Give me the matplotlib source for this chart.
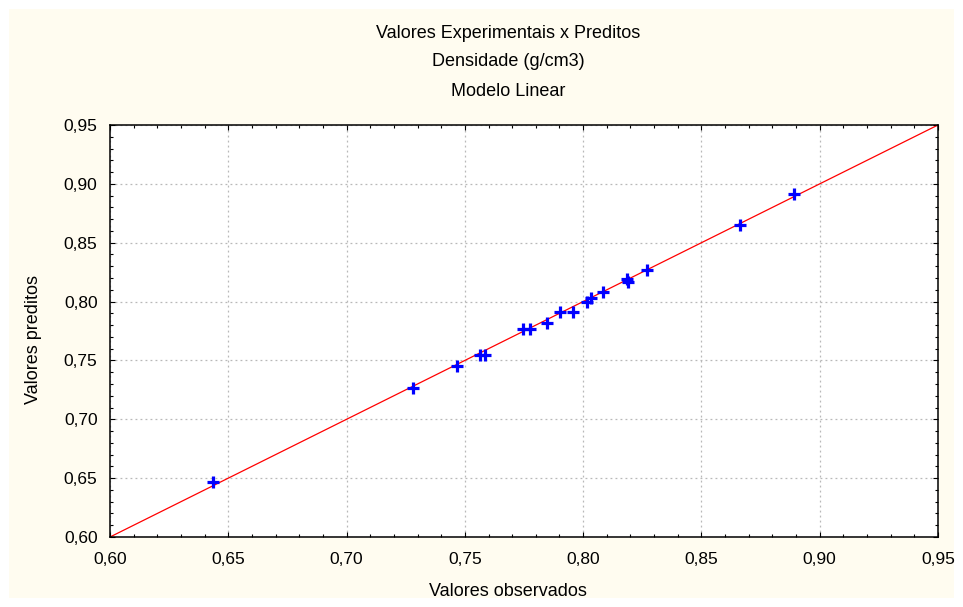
import matplotlib
matplotlib.use("Agg")
import matplotlib.pyplot as plt
from matplotlib.patches import Rectangle
from matplotlib.ticker import MultipleLocator, FuncFormatter

plt.rcParams['font.family'] = ['Liberation Sans', 'DejaVu Sans']

# densidade (g/cm3): observado x predito pelo modelo linear
observados = [0.6437, 0.7282, 0.7468, 0.7564, 0.7585, 0.7747, 0.7775, 0.7846,
              0.7902, 0.7958, 0.8015, 0.8032, 0.8085, 0.8184, 0.8191, 0.8271,
              0.8663, 0.8893]
preditos = [0.6465, 0.7269, 0.7456, 0.7549, 0.7549, 0.7764, 0.7764, 0.7820,
            0.7914, 0.7914, 0.7999, 0.8028, 0.8084, 0.8192, 0.8169, 0.8269,
            0.8651, 0.8912]
limites = [0.60, 0.95]

titulos = ["Valores Experimentais x Preditos", "Densidade (g/cm3)", "Modelo Linear"]

W, H = 963, 607
fig = plt.figure(figsize=(W / 100, H / 100), dpi=100)
fig.patch.set_facecolor("white")
fundo = Rectangle((9 / W, 9 / H), 1 - 18 / W, 1 - 18 / H,
                  transform=fig.transFigure, facecolor="#fffcf0",
                  edgecolor="none", zorder=-10)
fig.add_artist(fundo)

ax = fig.add_axes([110 / W, 70 / H, 828 / W, 412 / H])
ax.set_facecolor("white")

ax.plot(limites, limites, color="#ff0000", lw=0.9, zorder=2)
ax.plot(observados, preditos, linestyle="none", marker="+", color="#0000ff",
        markersize=9, markeredgewidth=2.3, zorder=3)

ax.set_xlim(*limites)
ax.set_ylim(*limites)

fmt = FuncFormatter(lambda v, pos: f"{v:.2f}".replace(".", ","))
for axis in (ax.xaxis, ax.yaxis):
    axis.set_major_locator(MultipleLocator(0.05))
    axis.set_minor_locator(MultipleLocator(0.01))
    axis.set_major_formatter(fmt)

ax.tick_params(which="both", direction="in", top=True, right=True,
               labelsize=12.5, color="black")
ax.tick_params(which="major", length=3.5, width=0.8)
ax.tick_params(which="minor", length=2.5, width=0.8)
ax.tick_params(axis="x", pad=11)
ax.tick_params(axis="y", pad=9)

ax.grid(True, which="major", linestyle=(0, (1.5, 2.5)), color="#b8b8b8", lw=0.9)
ax.set_axisbelow(True)
for s in ax.spines.values():
    s.set_linewidth(1.1)
    s.set_color("black")

for texto, y in zip(titulos, [33, 62, 92]):
    fig.text(508 / W, 1 - y / H, texto, ha="center", va="center", fontsize=13)

fig.text(508 / W, 1 - 591 / H, "Valores observados", ha="center", va="center",
         fontsize=13)
fig.text(33 / W, 1 - 340 / H, "Valores preditos", ha="center", va="center",
         rotation=90, fontsize=13)

fig.savefig("out.png", dpi=100, facecolor=fig.get_facecolor())
